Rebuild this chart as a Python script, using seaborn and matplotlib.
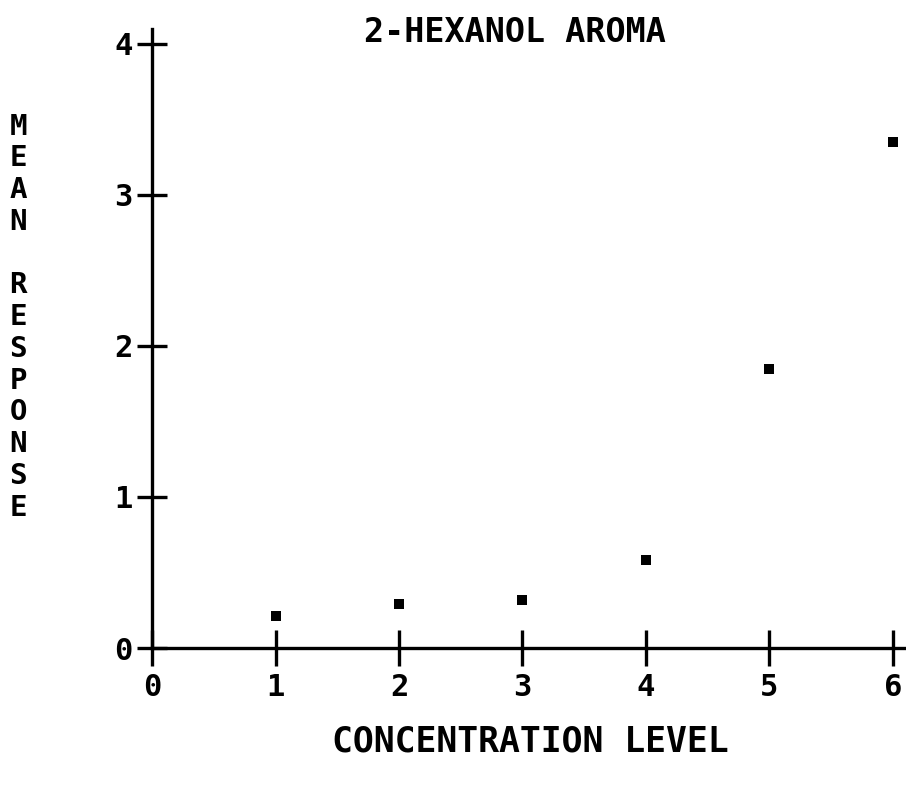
import matplotlib
matplotlib.use("Agg")
import matplotlib.pyplot as plt
import pandas as pd
import seaborn as sns

# Data
concentration = [1, 2, 3, 4, 5, 6]
mean_response = [0.21, 0.29, 0.32, 0.58, 1.85, 3.35]
x_ticks = [0, 1, 2, 3, 4, 5, 6]
y_ticks = [0, 1, 2, 3, 4]

TITLE = "2-HEXANOL AROMA"
XLABEL = "CONCENTRATION LEVEL"
YLABEL = "MEAN RESPONSE"

sns.set_style("ticks")
plt.rcParams["font.family"] = ["DejaVu Sans Mono", "DejaVu Sans"]
plt.rcParams["font.weight"] = "bold"
plt.rcParams["text.color"] = "black"

df = pd.DataFrame({"level": concentration, "response": mean_response})

fig = plt.figure(figsize=(9.06, 7.85), dpi=100)
ax = fig.add_axes([0.168, 0.1745, 0.831, 0.789])

sns.scatterplot(
    data=df, x="level", y="response", ax=ax,
    marker="s", s=60, color="black", edgecolor="black", linewidth=0,
)

ax.set_xlim(0, 6.1)
ax.set_ylim(0, 4.1)
ax.set_xticks(x_ticks)
ax.set_yticks(y_ticks)
ax.set_xticklabels([str(t) for t in x_ticks], fontsize=22, fontweight="bold")
ax.set_yticklabels([str(t) for t in y_ticks], fontsize=22, fontweight="bold")

sns.despine(ax=ax)
for side in ("left", "bottom"):
    ax.spines[side].set_linewidth(2.4)
    ax.spines[side].set_color("black")

ax.tick_params(axis="x", direction="inout", length=26, width=2.4, pad=5, colors="black")
ax.tick_params(axis="y", direction="inout", length=22, width=2.4, pad=3, colors="black")

ax.set_xlabel("")
ax.set_ylabel("")

fig.text(0.568, 0.958, TITLE, ha="center", va="center", fontsize=24,
         fontweight="bold", color="black")
fig.text(0.585, 0.055, XLABEL, ha="center", va="center", fontsize=25,
         fontweight="bold", color="black")
fig.text(0.02, 0.596, "\n".join(YLABEL), ha="center", va="center",
         fontsize=21, fontweight="bold", linespacing=1.17, color="black")

fig.savefig("out.png", dpi=100)
